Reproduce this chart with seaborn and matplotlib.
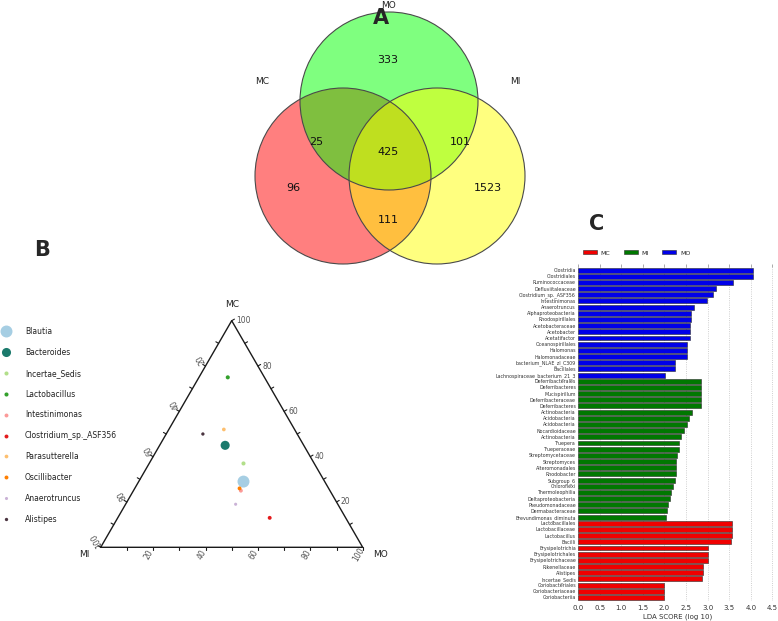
import numpy as np
import pandas as pd
import seaborn as sns
import matplotlib.pyplot as plt
from matplotlib.patches import Circle
from matplotlib.lines import Line2D

# ---- A: Venn diagram of shared features
venn_regions = ["MO", "MC&MO", "MO&MI", "MC&MO&MI", "MC", "MC&MI", "MI"]
venn_counts = [333, 25, 101, 425, 96, 111, 1523]

# ---- B: ternary plot, % of each genus in MC / MO / MI
genus = ["Blautia", "Bacteroides", "Incertae_Sedis", "Lactobacillus", "Intestinimonas",
         "Clostridium_sp._ASF356", "Parasutterella", "Oscillibacter", "Anaerotruncus", "Alistipes"]
tern_mc = [29, 45, 37, 75, 25, 13, 52, 26, 19, 50]
tern_mo = [40, 25, 36, 11, 41, 58, 21, 40, 42, 14]
tern_mi = [31, 30, 27, 14, 34, 29, 27, 34, 39, 36]
abundance = [10.0, 5.7, 1.0, 1.0, 0.9, 0.9, 0.8, 0.9, 0.5, 0.6]
genus_colors = ["#a6cee3", "#1b7a6c", "#b2df8a", "#33a02c", "#fb9a99",
                "#e31a1c", "#fdbf6f", "#ff7f00", "#cab2d6", "#4a3440"]

# ---- C: LEfSe LDA scores
mo_taxa = ["Clostridia", "Clostridiales", "Ruminococcaceae", "Defluviitaleaceae",
           "Clostridium_sp._ASF356", "Intestinimonas", "Anaerotruncus", "Alphaproteobacteria",
           "Rhodospirillales", "Acetobacteraceae", "Acetobacter", "Acetatifactor",
           "Oceanospirillales", "Halomonas", "Halomonadaceae", "bacterium_NLAE_zl_C309",
           "Bacillales", "Lachnospiraceae_bacterium_21_3"]
mo_lda = [4.05, 4.05, 3.59, 3.19, 3.13, 2.98, 2.69, 2.61, 2.61, 2.60, 2.60, 2.59,
          2.53, 2.53, 2.53, 2.25, 2.24, 2.02]
mi_taxa = ["Deferribacterales", "Deferribacteres", "Mucispirillum", "Deferribacteraceae",
           "Deferribacteres", "Actinobacteria", "Acidobacteria", "Acidobacteria",
           "Nocardioidaceae", "Actinobacteria", "Truepera", "Trueperaceae",
           "Streptomycetaceae", "Streptomyces", "Alteromonadales", "Rhodobacter",
           "Subgroup_6", "Chloroflexi", "Thermoleophilia", "Deltaproteobacteria",
           "Pseudomonadaceae", "Dermabacteraceae", "Brevundimonas_diminuta"]
mi_lda = [2.84, 2.84, 2.84, 2.84, 2.84, 2.65, 2.56, 2.53, 2.45, 2.39, 2.34, 2.33,
          2.29, 2.28, 2.28, 2.27, 2.25, 2.20, 2.16, 2.14, 2.08, 2.05, 2.04]
mc_taxa = ["Lactobacillales", "Lactobacillaceae", "Lactobacillus", "Bacilli",
           "Erysipelotrichia", "Erysipelotrichales", "Erysipelotrichaceae", "Rikenellaceae",
           "Alistipes", "Incertae_Sedis", "Coriobacteriales", "Coriobacteriaceae", "Coriobacteriia"]
mc_lda = [3.57, 3.57, 3.57, 3.55, 3.02, 3.02, 3.02, 2.89, 2.89, 2.87, 2.00, 2.00, 2.00]
group_colors = {"MC": "#f00000", "MI": "#007800", "MO": "#0000e8"}

W, H = 778, 621
sns.set_theme(style="white")
plt.rcParams["font.family"] = ["DejaVu Sans"]

fig = plt.figure(figsize=(W / 100, H / 100), dpi=100)
bg = fig.add_axes([0, 0, 1, 1])
bg.set_xlim(0, W)
bg.set_ylim(H, 0)
bg.axis("off")


def px_axes(left, top, right, bottom):
    return fig.add_axes([left / W, 1 - bottom / H, (right - left) / W, (bottom - top) / H])


# ================= A: Venn
circles = [("MC", (343, 176), 88, "#ff0000", (262, 82)),
           ("MO", (389, 101), 89, "#00ff00", (389, 5)),
           ("MI", (437, 176), 88, "#ffff00", (515, 82))]
for name, c, r, col, lab in circles:
    bg.add_patch(Circle(c, r, facecolor=col, alpha=0.5, edgecolor="none"))
for name, c, r, col, lab in circles:
    bg.add_patch(Circle(c, r, fill=False, edgecolor="#4a4a4a", lw=0.8))
    bg.text(lab[0], lab[1], name, ha="center", va="center", fontsize=6.5, color="#222")
count_pos = {"MO": (388, 60), "MC&MO": (316, 142), "MO&MI": (460, 142), "MC&MO&MI": (388, 152),
             "MC": (293, 188), "MC&MI": (388, 220), "MI": (488, 188)}
for reg, n in zip(venn_regions, venn_counts):
    x, y = count_pos[reg]
    bg.text(x, y, str(n), ha="center", va="center", fontsize=8, color="#111")

# ================= B: ternary
s3 = np.sqrt(3) / 2
tax = px_axes(100.7, 320.7, 362.7, 547.3)
tax.set_xlim(0, 1)
tax.set_ylim(0, s3)
tax.axis("off")

tdf = pd.DataFrame({"genus": genus, "MC": tern_mc, "MO": tern_mo, "MI": tern_mi, "abund": abundance})
tot = tdf[["MC", "MO", "MI"]].sum(axis=1)
tdf["x"] = (tdf.MO + tdf.MC / 2) / tot
tdf["y"] = tdf.MC / tot * s3
amin, amax = min(abundance), max(abundance)
tdf["s"] = 5 + (tdf.abund - amin) / (amax - amin) * 69
pal = dict(zip(genus, genus_colors))
sns.scatterplot(data=tdf, x="x", y="y", hue="genus", palette=pal, size="genus",
                sizes=dict(zip(tdf.genus, tdf.s)), legend=False, edgecolor="none",
                ax=tax, clip_on=False, zorder=3)

tax.plot([0, 1, 0.5, 0], [0, 0, s3, 0], color="#1a1a1a", lw=1.0, clip_on=False)
tk = 0.012
for v in np.arange(0.1, 1.01, 0.1):
    # bottom edge (MO)
    bx, by = v, 0
    tax.plot([bx, bx], [by, by - tk], color="#1a1a1a", lw=0.8, clip_on=False)
    # right edge (MC)
    rx, ry = 1 - v / 2, v * s3
    tax.plot([rx, rx + tk * 0.866], [ry, ry + tk * 0.5], color="#1a1a1a", lw=0.8, clip_on=False)
    # left edge (MI)
    lx, ly = (1 - v) / 2, (1 - v) * s3
    tax.plot([lx, lx - tk * 0.866], [ly, ly + tk * 0.5], color="#1a1a1a", lw=0.8, clip_on=False)
    if round(v * 100) % 20 == 0:
        lab = str(int(round(v * 100)))
        tax.annotate(lab, (bx, by), xytext=(-2.8, -5.2), textcoords="offset points",
                     rotation=60, ha="center", va="center", fontsize=5.5, color="#555")
        tax.annotate(lab, (rx, ry), xytext=(3, 0), textcoords="offset points",
                     ha="left", va="center", fontsize=5.5, color="#555")
        tax.annotate(lab, (lx, ly), xytext=(-3.3, 5.1), textcoords="offset points",
                     rotation=120, ha="center", va="center", fontsize=5.5, color="#555")

tax.annotate("MC", (0.5, s3), xytext=(0, 12), textcoords="offset points",
             ha="center", va="center", fontsize=6.5, color="#222")
tax.annotate("MI", (0, 0), xytext=(-12, -5.5), textcoords="offset points",
             ha="center", va="center", fontsize=6.5, color="#222")
tax.annotate("MO", (1, 0), xytext=(12.5, -5.5), textcoords="offset points",
             ha="center", va="center", fontsize=6.5, color="#222")

handles = [Line2D([0], [0], marker="o", ls="", markerfacecolor=c, markeredgecolor="none",
                  markersize=np.sqrt(s), label=g)
           for g, c, s in zip(genus, genus_colors, tdf.s)]
fig.legend(handles=handles, loc="upper left", bbox_to_anchor=(2 / W, 1 - 327 / H),
           frameon=False, fontsize=5.5, labelspacing=1.55, handlelength=1.0,
           handletextpad=2.0, borderpad=0, borderaxespad=0, labelcolor="#222")

# ================= C: LDA bars
ldf = pd.DataFrame({"taxon": mo_taxa + mi_taxa + mc_taxa,
                    "lda": mo_lda + mi_lda + mc_lda,
                    "group": ["MO"] * len(mo_taxa) + ["MI"] * len(mi_taxa) + ["MC"] * len(mc_taxa)})
ldf["key"] = [str(i) for i in range(len(ldf))]

bax = px_axes(578, 267, 776.7, 600.5)
sns.barplot(data=ldf, x="lda", y="key", hue="group", hue_order=["MC", "MI", "MO"],
            palette=group_colors, saturation=1, dodge=False, width=0.8, edgecolor="#2a2a2a",
            linewidth=0.4, orient="h", ax=bax)
bax.set_ylim(len(ldf) - 0.5, -0.5)
bax.set_yticks(range(len(ldf)))
bax.set_yticklabels(ldf.taxon, fontsize=3.4, color="#333")
bax.set_xlim(0, 4.6)
bax.set_xticks(np.arange(0, 4.51, 0.5))
bax.set_xticklabels([f"{t:.1f}" for t in np.arange(0, 4.51, 0.5)])
bax.tick_params(axis="y", length=0, pad=1.5)
bax.tick_params(axis="x", top=True, bottom=False, labeltop=False, labelbottom=True,
                length=2, width=0.5, color="#888", labelsize=5, labelcolor="#333", pad=1.5)
bax.set_ylabel("")
bax.set_xlabel("LDA SCORE (log 10)", fontsize=5, color="#333", labelpad=1.5)
bax.xaxis.grid(True, ls=":", color="#c0c0c0", lw=0.6)
bax.set_axisbelow(True)
for sp in bax.spines.values():
    sp.set_visible(False)
sns.move_legend(bax, "center left", bbox_to_anchor=(0.025, 1.042), ncol=3, title=None,
                frameon=False, fontsize=4.5, handlelength=2.2, handleheight=0.6,
                columnspacing=2.2, handletextpad=0.6, borderaxespad=0, borderpad=0)

# panel letters
for t, x, y in [("A", 381, 18), ("B", 42, 250), ("C", 597, 224)]:
    fig.text(x / W, 1 - y / H, t, ha="center", va="center", fontsize=15, fontweight="bold")

fig.savefig("out.png", dpi=100)
